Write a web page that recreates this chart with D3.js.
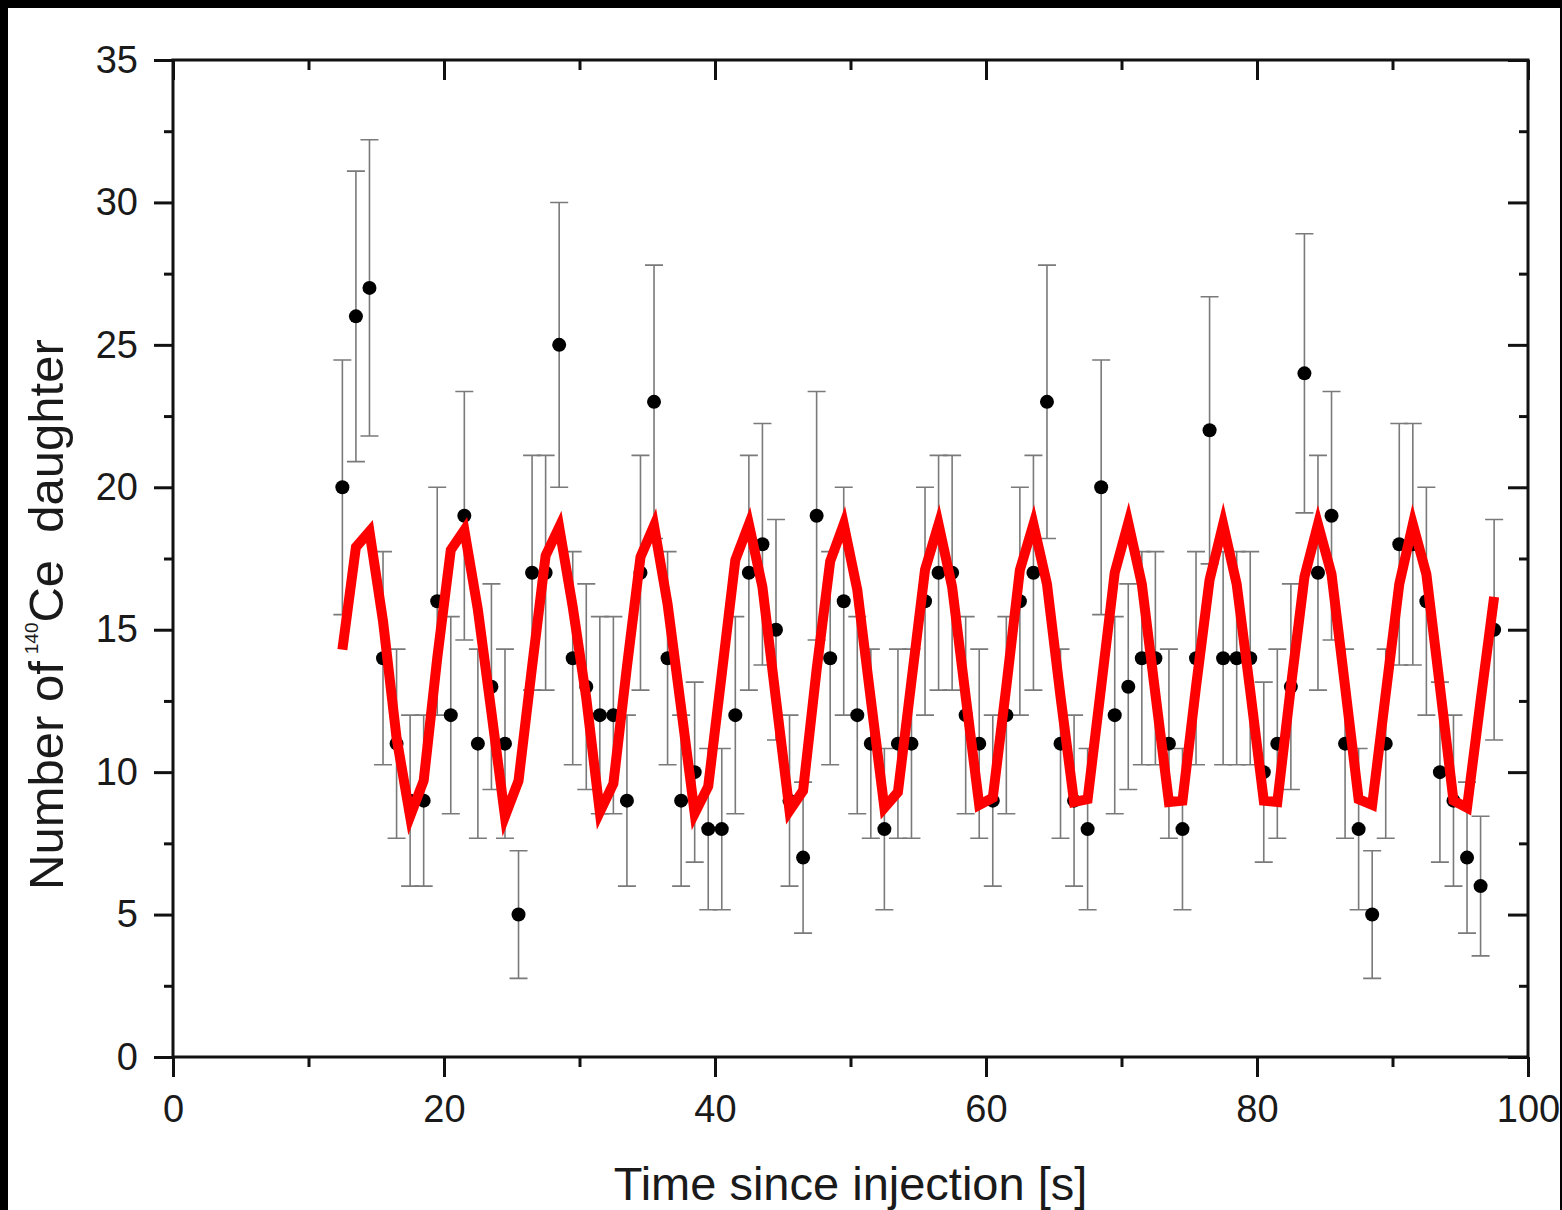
<!DOCTYPE html>
<html>
<head>
<meta charset="utf-8">
<script src="https://cdn.jsdelivr.net/npm/d3@7"></script>
<style>
  html, body { margin: 0; padding: 0; background: #000; }
  svg { display: block; }
  text { font-family: "Liberation Sans", Arial, Helvetica, sans-serif; fill: #1a1a1a; }
</style>
</head>
<body>
<svg id="chart" width="1562" height="1210"></svg>
<script>
// Bin centres [s]
const times = [
  12.5, 13.5, 14.5, 15.5, 16.5, 17.5, 18.5, 19.5, 20.5, 21.5,
  22.5, 23.5, 24.5, 25.5, 26.5, 27.5, 28.5, 29.5, 30.5, 31.5,
  32.5, 33.5, 34.5, 35.5, 36.5, 37.5, 38.5, 39.5, 40.5, 41.5,
  42.5, 43.5, 44.5, 45.5, 46.5, 47.5, 48.5, 49.5, 50.5, 51.5,
  52.5, 53.5, 54.5, 55.5, 56.5, 57.5, 58.5, 59.5, 60.5, 61.5,
  62.5, 63.5, 64.5, 65.5, 66.5, 67.5, 68.5, 69.5, 70.5, 71.5,
  72.5, 73.5, 74.5, 75.5, 76.5, 77.5, 78.5, 79.5, 80.5, 81.5,
  82.5, 83.5, 84.5, 85.5, 86.5, 87.5, 88.5, 89.5, 90.5, 91.5,
  92.5, 93.5, 94.5, 95.5, 96.5, 97.5
];

// Counted 140Ce daughters per bin
const counts = [
  20, 26, 27, 14, 11, 9, 9, 16, 12, 19,
  11, 13, 11, 5, 17, 17, 25, 14, 13, 12,
  12, 9, 17, 23, 14, 9, 10, 8, 8, 12,
  17, 18, 15, 9, 7, 19, 14, 16, 12, 11,
  8, 11, 11, 16, 17, 17, 12, 11, 9, 12,
  16, 17, 23, 11, 9, 8, 20, 12, 13, 14,
  14, 11, 8, 14, 22, 14, 14, 14, 10, 11,
  13, 24, 17, 19, 11, 8, 5, 11, 18, 18,
  16, 10, 9, 7, 6, 15
];

// Statistical uncertainty of each bin
const errors = [
  4.47, 5.10, 5.20, 3.74, 3.32, 3.00, 3.00, 4.00, 3.46, 4.36,
  3.32, 3.61, 3.32, 2.24, 4.12, 4.12, 5.00, 3.74, 3.61, 3.46,
  3.46, 3.00, 4.12, 4.80, 3.74, 3.00, 3.16, 2.83, 2.83, 3.46,
  4.12, 4.24, 3.87, 3.00, 2.65, 4.36, 3.74, 4.00, 3.46, 3.32,
  2.83, 3.32, 3.32, 4.00, 4.12, 4.12, 3.46, 3.32, 3.00, 3.46,
  4.00, 4.12, 4.80, 3.32, 3.00, 2.83, 4.47, 3.46, 3.61, 3.74,
  3.74, 3.32, 2.83, 3.74, 4.69, 3.74, 3.74, 3.74, 3.16, 3.32,
  3.61, 4.90, 4.12, 4.36, 3.32, 2.83, 2.24, 3.32, 4.24, 4.24,
  4.00, 3.16, 3.00, 2.65, 2.45, 3.87
];

// Fitted oscillation, evaluated at the bin centres
const fitValues = [
  14.3, 17.9, 18.45, 15.3, 11.2, 8.45, 9.7, 14.0, 17.8, 18.5,
  15.7, 12.1, 8.45, 9.7, 13.7, 17.6, 18.6, 15.8, 12.6, 8.6,
  9.6, 13.7, 17.55, 18.65, 15.9, 12.25, 8.55, 9.5, 13.45, 17.45,
  18.7, 16.5, 12.55, 8.65, 9.35, 13.6, 17.4, 18.7, 16.4, 12.55,
  8.75, 9.3, 13.2, 17.1, 18.7, 16.5, 12.65, 8.85, 9.1, 13.0,
  17.1, 18.7, 16.6, 12.65, 8.95, 9.05, 13.0, 17.0, 18.75, 16.6,
  12.75, 8.95, 9.0, 13.0, 16.75, 18.7, 16.6, 12.85, 9.0, 8.95,
  13.0, 16.85, 18.7, 16.95, 13.0, 9.05, 8.85, 12.75, 16.6, 18.7,
  16.95, 13.0, 9.0, 8.75, 12.5, 16.15
];

const xMajorTicks = [0, 20, 40, 60, 80, 100];
const xMinorTicks = [10, 30, 50, 70, 90];
const yMajorTicks = [0, 5, 10, 15, 20, 25, 30, 35];
const yMinorTicks = [2.5, 7.5, 12.5, 17.5, 22.5, 27.5, 32.5];

const xLabel = "Time since injection [s]";

const W = 1562, H = 1210;
const plot = { left: 173, right: 1528, top: 60, bottom: 1057 };

const svg = d3.select("#chart");

// white page inside a thin dark border
svg.append("rect").attr("x", 8).attr("y", 8).attr("width", W - 10).attr("height", H - 8).attr("fill", "#fff");

const x = d3.scaleLinear().domain([0, 100]).range([plot.left, plot.right]);
const y = d3.scaleLinear().domain([0, 35]).range([plot.bottom, plot.top]);

const pts = times.map((t, i) => ({ t, n: counts[i], e: errors[i], f: fitValues[i] }));

// ---- axes ----
function styleAxis(g, labels) {
  g.select(".domain").remove();
  g.selectAll(".tick line").attr("stroke", "#111").attr("stroke-width", 3);
  if (!labels) g.selectAll(".tick text").remove();
  else g.selectAll(".tick text").attr("font-size", 38).style("fill", "#1a1a1a");
}

svg.append("g").attr("transform", `translate(0,${plot.bottom})`)
  .call(d3.axisBottom(x).tickValues(xMajorTicks).tickSize(20).tickPadding(18).tickFormat(d3.format("d")))
  .call(g => styleAxis(g, true));
svg.append("g").attr("transform", `translate(0,${plot.bottom})`)
  .call(d3.axisBottom(x).tickValues(xMinorTicks).tickSize(10))
  .call(g => styleAxis(g, false));
svg.append("g").attr("transform", `translate(0,${plot.top})`)
  .call(d3.axisTop(x).tickValues(xMajorTicks).tickSize(-20))
  .call(g => styleAxis(g, false));
svg.append("g").attr("transform", `translate(0,${plot.top})`)
  .call(d3.axisTop(x).tickValues(xMinorTicks).tickSize(-10))
  .call(g => styleAxis(g, false));

svg.append("g").attr("transform", `translate(${plot.left},0)`)
  .call(d3.axisLeft(y).tickValues(yMajorTicks).tickSize(19).tickPadding(16).tickFormat(d3.format("d")))
  .call(g => styleAxis(g, true));
svg.append("g").attr("transform", `translate(${plot.left},0)`)
  .call(d3.axisLeft(y).tickValues(yMinorTicks).tickSize(9))
  .call(g => styleAxis(g, false));
svg.append("g").attr("transform", `translate(${plot.right},0)`)
  .call(d3.axisRight(y).tickValues(yMajorTicks).tickSize(-20))
  .call(g => styleAxis(g, false));
svg.append("g").attr("transform", `translate(${plot.right},0)`)
  .call(d3.axisRight(y).tickValues(yMinorTicks).tickSize(-9))
  .call(g => styleAxis(g, false));

// frame
svg.append("rect")
  .attr("x", plot.left).attr("y", plot.top)
  .attr("width", plot.right - plot.left).attr("height", plot.bottom - plot.top)
  .attr("fill", "none").attr("stroke", "#111").attr("stroke-width", 3);

// ---- error bars ----
const capHalf = 9;
const eb = svg.append("g").attr("stroke", "#7a7a7a").attr("stroke-width", 1.6).attr("fill", "none");
eb.selectAll("path").data(pts).join("path")
  .attr("d", d => {
    const cx = x(d.t), y1 = y(d.n + d.e), y0 = y(d.n - d.e);
    return `M${cx},${y1}V${y0}M${cx - capHalf},${y1}H${cx + capHalf}M${cx - capHalf},${y0}H${cx + capHalf}`;
  });

// ---- data points ----
svg.append("g").selectAll("circle").data(pts).join("circle")
  .attr("cx", d => x(d.t)).attr("cy", d => y(d.n)).attr("r", 7).attr("fill", "#000");

// ---- fit curve ----
const line = d3.line().x(d => x(d.t)).y(d => y(d.f));
svg.append("path").datum(pts)
  .attr("d", line)
  .attr("fill", "none").attr("stroke", "#f00").attr("stroke-width", 10)
  .attr("stroke-linejoin", "miter").attr("stroke-miterlimit", 10);

// ---- axis titles ----
svg.append("text")
  .attr("x", (plot.left + plot.right) / 2).attr("y", 1200)
  .attr("text-anchor", "middle").attr("font-size", 47)
  .text(xLabel);

const yt = svg.append("text")
  .attr("transform", "translate(63,890) rotate(-90)")
  .attr("text-anchor", "start").attr("font-size", 49)
  .style("white-space", "pre");
yt.append("tspan").text("Number of");
yt.append("tspan").attr("font-size", 19).attr("dx", 7).attr("dy", -25).text("140");
yt.append("tspan").attr("dy", 25).text("Ce  daughter");
</script>
</body>
</html>
